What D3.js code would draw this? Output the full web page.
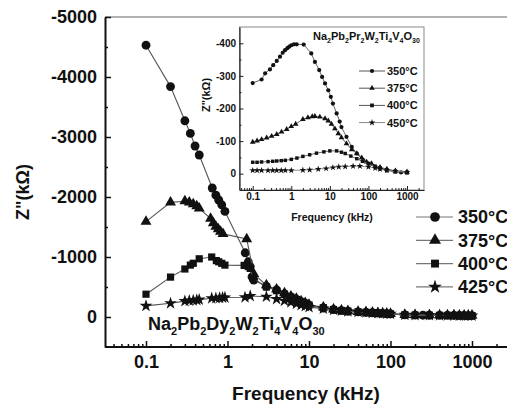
<!DOCTYPE html>
<html><head><meta charset="utf-8">
<script src="https://cdn.jsdelivr.net/npm/d3@7"></script>
<style>
body{margin:0;background:#fff}
svg{display:block}
text{font-family:"Liberation Sans",Arial,sans-serif;font-weight:bold;fill:#111}
</style>
</head><body><svg id="c" width="507" height="408"></svg>
<script>
// ---------------- DATA (main plot) ----------------
const seriesLabels = ["350°C","375°C","400°C","425°C"];
const freq350 = [0.1,0.2,0.3,0.35,0.4,0.45,0.65,0.72,0.78,0.85,0.93,1.65,1.8,1.9,2.0,2.1,3,4,5,6,7,8,9,10,15,20,25,30,40,50,60,70,80,90,100,150,200,250,300,400,500,600,700,800,900,1000];
const z350 = [-4530,-3840,-3270,-3060,-2850,-2700,-2150,-2030,-1950,-1870,-1760,-1070,-920,-840,-670,-615,-510,-450,-385,-335,-295,-255,-225,-195,-150,-122,-106,-96,-85,-76,-70,-65,-60,-56,-52,-35,-32,-30,-29,-28,-27,-26,-25,-24,-23,-22];
const freq375 = [0.1,0.2,0.3,0.34,0.38,0.42,0.45,0.62,0.67,0.72,0.77,0.82,0.88,1.72,2.1,3,4,5,6,7,8,9,10,15,20,25,30,40,50,60,70,80,90,100,150,200,300,400,500,600,700,800,900,1000];
const z375 = [-1590,-1910,-1930,-1910,-1880,-1850,-1810,-1640,-1565,-1505,-1465,-1425,-1385,-1300,-720,-530,-460,-400,-345,-305,-265,-235,-205,-160,-128,-110,-100,-88,-80,-72,-66,-61,-57,-53,-37,-33,-30,-28,-27,-26,-25,-24,-23,-22];
const freq400 = [0.1,0.2,0.3,0.35,0.38,0.45,0.64,0.73,0.78,0.85,0.93,1.6,1.8,1.9,2.05,3,4,5,6,7,8,9,10,15,20,25,30,40,50,60,70,80,90,100,150,200,300,400,500,600,700,800,900,1000];
const z400 = [-380,-665,-800,-865,-895,-970,-1000,-940,-920,-895,-865,-860,-840,-810,-650,-500,-440,-380,-330,-290,-255,-228,-200,-155,-125,-108,-98,-86,-78,-71,-66,-61,-57,-52,-36,-32,-30,-28,-27,-26,-25,-24,-23,-22];
const freq425 = [0.1,0.2,0.3,0.34,0.38,0.42,0.45,0.64,0.72,0.8,0.87,0.93,1.64,1.9,3,4,5,6,7,8,9,10,15,20,25,30,40,50,60,70,80,90,100,150,200,300,400,500,600,700,800,900,1000];
const z425 = [-185,-228,-265,-272,-278,-283,-290,-312,-313,-318,-322,-325,-328,-350,-338,-300,-270,-245,-220,-198,-180,-165,-140,-118,-105,-95,-84,-76,-70,-65,-60,-56,-52,-36,-32,-30,-28,-27,-26,-25,-24,-23,-22];
const mainXTicks = [0.1,1,10,100,1000];
const mainXTickLabels = ["0.1","1","10","100","1000"];
const mainYTicks = [0,-1000,-2000,-3000,-4000,-5000];
const mainYTickLabels = ["0","-1000","-2000","-3000","-4000","-5000"];
const mainFormula = ["Na","2","Pb","2","Dy","2","W","2","Ti","4","V","4","O","30"];

// ---------------- DATA (inset) ----------------
const insetLabels = ["350°C","375°C","400°C","450°C"];
const inFreq350 = [0.1,0.17,0.21,0.28,0.34,0.42,0.51,0.6,0.69,0.79,0.89,1.0,1.17,1.38,2.1,3.3,4.1,5.3,6.3,7.5,9.1,10.6,12,15,18,20,27,37,50,74,100,150,200,300,500,700,1000];
const in350 = [-278,-289,-308,-320,-333,-346,-359,-371,-379,-385,-390,-394,-397,-397,-396,-369,-343,-318,-297,-277,-256,-236,-215,-185,-160,-143,-113,-82,-62,-41,-31,-20,-15,-10,-6,-4,-3];
const inFreq375 = [0.1,0.13,0.17,0.23,0.31,0.42,0.56,0.76,1.0,1.3,2.0,2.7,3.5,4.1,5.5,7.5,9.1,11,13.5,16.6,20,27,37,50,67,90,120,200,300,500,1000];
const in375 = [-97,-101,-105,-110,-115,-121,-128,-136,-145,-152,-167,-172,-175,-176,-174,-169,-162,-152,-138,-123,-111,-92,-74,-62,-49,-36,-31,-20,-14,-9,-5];
const inFreq400 = [0.1,0.13,0.17,0.25,0.33,0.42,0.55,0.7,1.0,1.4,2.0,3,4.5,7,10,15,20,25,35,50,70,100,150,200,300,500,1000];
const in400 = [-35,-35,-36,-37,-38,-39,-40,-41,-44,-48,-53,-58,-63,-67,-70,-70,-66,-62,-54,-46,-38,-31,-23,-18,-12,-8,-5];
const inFreq450 = [0.1,0.13,0.17,0.25,0.33,0.42,0.55,0.7,1.0,2.0,3,5,8,12,17,25,40,60,100,150,200,300,500,1000];
const in450 = [-10,-10,-10,-10,-10,-10,-10,-10,-10,-11,-12,-14,-16,-19,-21,-22,-23,-23,-21,-17,-14,-10,-7,-5];
const inXTicks = [0.1,1,10,100,1000];
const inXTickLabels = ["0.1","1","10","100","1000"];
const inYTicks = [0,-100,-200,-300,-400];
const inYTickLabels = ["0","-100","-200","-300","-400"];
const insetFormula = ["Na","2","Pb","2","Pr","2","W","2","Ti","4","V","4","O","30"];

// ---------------- DRAW ----------------
const svg = d3.select("#c");
const zip = (a,b)=>a.map((v,i)=>[v,b[i]]);
function minorLog(lo, hi){
  const out=[];
  for(let e=-3;e<=5;e++){const d=Math.pow(10,e);for(let k=2;k<=9;k++){const v=k*d;if(v>lo&&v<hi)out.push(v);}}
  return out;
}
function formula(g, parts, x, y, size, sub, shift){
  const t = g.append("text").attr("x",x).attr("y",y).style("font-size",size+"px");
  parts.forEach((p,i)=>{
    if(i%2===0){ t.append("tspan").text(p).attr("dy", i===0?0:-shift).style("font-size",size+"px"); }
    else { t.append("tspan").text(p).attr("dy", shift).style("font-size",sub+"px"); }
  });
  return t;
}

// ---- main scales ----
const mainX = d3.scaleLog().domain([0.1,1000]).range([146,472]);
mainX.domain([mainX.invert(105), mainX.invert(520)]).range([105,520]);
const mainY = d3.scaleLinear().domain([500,-5000]).range([347,17]);

const mainSeries = [
  {f:freq350, z:z350, type:d3.symbolCircle, size:62},
  {f:freq375, z:z375, type:d3.symbolTriangle, size:52},
  {f:freq400, z:z400, type:d3.symbolSquare, size:52},
  {f:freq425, z:z425, type:d3.symbolStar, size:50}
];

// top border
svg.append("line").attr("x1",105).attr("x2",507).attr("y1",17).attr("y2",17)
  .attr("stroke","#999").attr("stroke-width",1.5);

// main axes
const gx = svg.append("g").attr("transform","translate(0,347)");
gx.call(d3.axisBottom(mainX).tickValues(mainXTicks).tickSizeInner(-6).tickSizeOuter(0).tickPadding(8)
  .tickFormat((d,i)=>mainXTickLabels[i]));
gx.append("g").call(d3.axisBottom(mainX).tickValues(minorLog(mainX.domain()[0], 3000)).tickSizeInner(-3).tickSizeOuter(0).tickFormat(""))
  .select(".domain").remove();
const gy = svg.append("g").attr("transform","translate(105,0)");
gy.call(d3.axisLeft(mainY).tickValues(mainYTicks).tickSizeInner(-6).tickSizeOuter(0).tickPadding(8)
  .tickFormat((d,i)=>mainYTickLabels[i]));
gy.append("g").call(d3.axisLeft(mainY).tickValues([-500,-1500,-2500,-3500,-4500]).tickSizeInner(-3).tickSizeOuter(0).tickFormat(""))
  .select(".domain").remove();
[gx,gy].forEach(g=>{
  g.selectAll(".domain").attr("stroke","#111").attr("stroke-width",2);
  g.selectAll("line").attr("stroke","#111").attr("stroke-width",1.5);
  g.selectAll("text").style("font-size","18px").style("font-family",'"Liberation Sans",Arial,sans-serif').style("font-weight","bold").attr("fill","#111");
});
gx.select(".domain").attr("d","M105,0H507");

// main lines and markers
const mainLine = d3.line().x(d=>mainX(d[0])).y(d=>mainY(d[1]));
const plot = svg.append("g");
mainSeries.forEach(s=>{
  const pts = zip(s.f,s.z);
  plot.append("path").attr("d",mainLine(pts)).attr("fill","none").attr("stroke","#555").attr("stroke-width",1.1);
  plot.selectAll(null).data(pts).enter().append("path")
    .attr("d",d3.symbol().type(s.type).size(s.size))
    .attr("transform",d=>`translate(${mainX(d[0])},${mainY(d[1])})`)
    .attr("fill","#111");
});

// main legend
const leg = svg.append("g");
seriesLabels.forEach((lab,i)=>{
  const y = 217 + i*23.3;
  leg.append("line").attr("x1",416).attr("x2",453).attr("y1",y).attr("y2",y).attr("stroke","#777").attr("stroke-width",1.2);
  leg.append("path").attr("d",d3.symbol().type(mainSeries[i].type).size(mainSeries[i].size*1.2)).attr("transform",`translate(435,${y})`).attr("fill","#111");
  leg.append("text").attr("x",458).attr("y",y).attr("dy","0.36em").style("font-size","18px").text(lab);
});

// main formula
formula(svg, mainFormula, 148, 330, 18, 11, 5);

// main axis titles
svg.append("text").attr("x",306).attr("y",400).attr("text-anchor","middle").style("font-size","19px").text("Frequency (kHz)");
svg.append("text").attr("transform","translate(29,192) rotate(-90)").attr("text-anchor","middle").style("font-size","18px").text("Z\"(kΩ)");

// ---------------- INSET ----------------
const inX = d3.scaleLog().domain([0.1,1000]).range([252.7,407]);
inX.domain([inX.invert(239.5), inX.invert(424)]).range([239.5,424]);
const inY = d3.scaleLinear().domain([50,-450]).range([190,27]);
const ins = svg.append("g");
ins.append("rect").attr("x",239.5).attr("y",27).attr("width",184.5).attr("height",163)
  .attr("fill","#fff").attr("stroke","#888").attr("stroke-width",1);

const igx = ins.append("g").attr("transform","translate(0,190)");
igx.call(d3.axisBottom(inX).tickValues(inXTicks).tickSizeInner(-4).tickSizeOuter(0).tickPadding(3)
  .tickFormat((d,i)=>inXTickLabels[i]));
igx.append("g").call(d3.axisBottom(inX).tickValues(minorLog(inX.domain()[0], inX.domain()[1])).tickSizeInner(-2).tickSizeOuter(0).tickFormat(""))
  .select(".domain").remove();
const igy = ins.append("g").attr("transform","translate(239.5,0)");
igy.call(d3.axisLeft(inY).tickValues(inYTicks).tickSizeInner(-4).tickSizeOuter(0).tickPadding(3.5)
  .tickFormat((d,i)=>inYTickLabels[i]));
igy.append("g").call(d3.axisLeft(inY).tickValues([-50,-150,-250,-350]).tickSizeInner(-2).tickSizeOuter(0).tickFormat(""))
  .select(".domain").remove();
[igx,igy].forEach(g=>{
  g.selectAll(".domain").attr("stroke","#222").attr("stroke-width",1.2);
  g.selectAll("line").attr("stroke","#222").attr("stroke-width",1);
  g.selectAll("text").style("font-size","10px").style("font-family",'"Liberation Sans",Arial,sans-serif').style("font-weight","bold").attr("fill","#111");
});

const inSeries = [
  {f:inFreq350, z:in350, type:d3.symbolCircle, size:14, c:"#555"},
  {f:inFreq375, z:in375, type:d3.symbolTriangle, size:14, c:"#555"},
  {f:inFreq400, z:in400, type:d3.symbolSquare, size:12, c:"#555"},
  {f:inFreq450, z:in450, type:d3.symbolStar, size:14, c:"#888"}
];
const inLine = d3.line().x(d=>inX(d[0])).y(d=>inY(d[1]));
inSeries.forEach(s=>{
  const pts = zip(s.f,s.z);
  ins.append("path").attr("d",inLine(pts)).attr("fill","none").attr("stroke",s.c).attr("stroke-width",0.9);
  ins.selectAll(null).data(pts).enter().append("path")
    .attr("d",d3.symbol().type(s.type).size(s.size))
    .attr("transform",d=>`translate(${inX(d[0])},${inY(d[1])})`)
    .attr("fill","#111");
});

// inset legend
insetLabels.forEach((lab,i)=>{
  const y = 71 + i*17.2;
  ins.append("line").attr("x1",359).attr("x2",385).attr("y1",y).attr("y2",y).attr("stroke",inSeries[i].c).attr("stroke-width",1);
  ins.append("path").attr("d",d3.symbol().type(inSeries[i].type).size(14)).attr("transform",`translate(372,${y})`).attr("fill","#111");
  ins.append("text").attr("x",387).attr("y",y).attr("dy","0.36em").style("font-size","11px").text(lab);
});
formula(ins, insetFormula, 313, 40, 11, 7, 3);
svg.append("text").attr("x",332).attr("y",221).attr("text-anchor","middle").style("font-size","10.5px").text("Frequency (kHz)");
svg.append("text").attr("transform","translate(210,95) rotate(-90)").attr("text-anchor","middle").style("font-size","11px").text("Z\"(kΩ)");
</script></body></html>
